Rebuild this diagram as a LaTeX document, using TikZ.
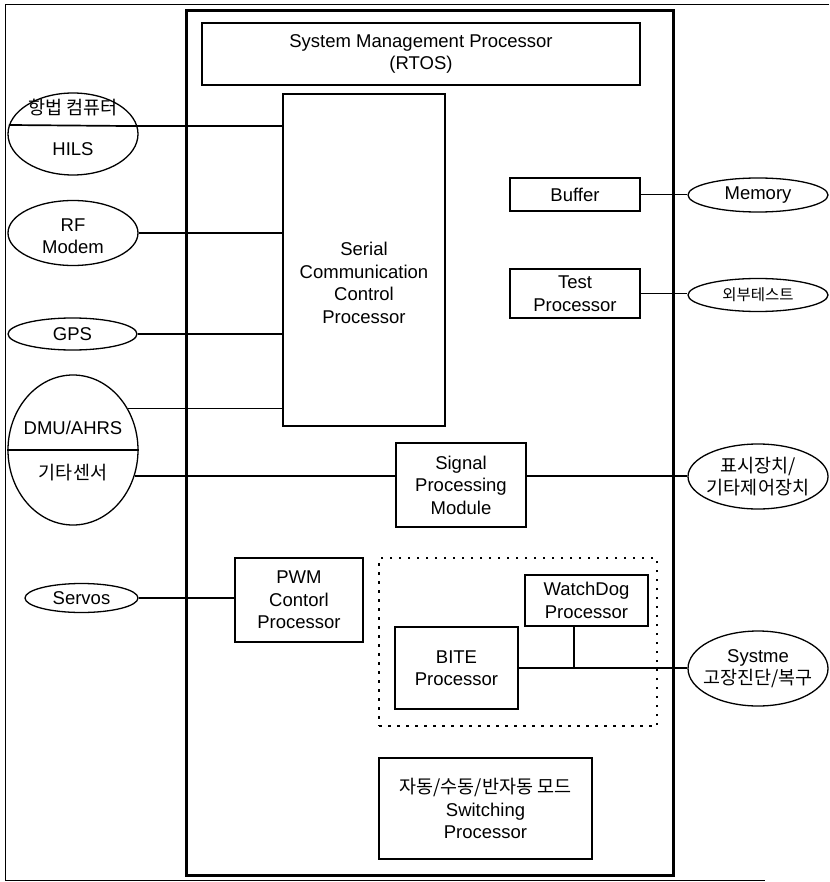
\documentclass[tikz,border=0pt]{standalone}
\usepackage{fontspec}
\setmainfont{Liberation Sans}
\newfontfamily\kr{Noto Sans CJK KR}
\usetikzlibrary{shapes.geometric}
\newcommand\labfont{\fontsize{18.5}{22.5}\selectfont}
\newcommand\smallkr{\fontsize{15.5}{18}\selectfont\kr}

\begin{document}
\begin{tikzpicture}[x=1pt,y=-1pt,
  blk/.style={draw, line width=1.3pt, inner sep=0pt, align=center, font=\labfont},
  ext/.style={draw, ellipse, line width=1.3pt, inner sep=0pt},
  txt/.style={inner sep=0pt, align=center, font=\labfont},
  wire/.style={line width=1.7pt},
  grp/.style={draw, line width=2.2pt, dash pattern=on 2.5pt off 6.5pt, inner sep=0pt},
]
\useasboundingbox (0,0) rectangle (829,882);

% page frame
\draw[line width=1pt] (829,5) -- (5,5) -- (5,880) -- (765,880);

% flight control unit
\node[draw, line width=3pt, minimum width=487pt, minimum height=864pt] (unit) at (429.5,443) {};

% processors inside the unit
\node[blk, minimum width=438pt, minimum height=62pt] (smp) at (421,54) {System Management Processor\\(RTOS)};
\node[blk, minimum width=162pt, minimum height=332pt] (scc) at (364,260) {};
\node[txt] (scctext) at (364,283) {Serial\\Communication\\Control\\Processor};
\node[blk, minimum width=130pt, minimum height=33pt] (buf) at (575,194.5) {Buffer};
\node[blk, minimum width=130pt, minimum height=49pt] (tst) at (575,293.5) {Test\\Processor};
\node[blk, minimum width=130pt, minimum height=84pt] (spm) at (461,485) {Signal\\Processing\\Module};
\node[blk, minimum width=128pt, minimum height=84pt] (pwm) at (299,600) {PWM\\Contorl\\Processor};
\node[grp, minimum width=278pt, minimum height=168pt] (bitegrp) at (518,642) {};
\node[blk, minimum width=123pt, minimum height=51pt] (wdg) at (586.5,600.5) {WatchDog\\Processor};
\node[blk, minimum width=123pt, minimum height=82pt] (bite) at (456.5,668) {BITE\\Processor};
\node[blk, minimum width=213pt, minimum height=101pt] (mode) at (485.5,808.5) {{\kr 자동/수동/반자동 모드}\\Switching\\Processor};

% external devices, left
\node[ext, minimum width=130pt, minimum height=82pt] (nav) at (73,134) {};
\node[txt] (navtop) at (73,107.5) {\kr 항법 컴퓨터};
\node[txt] (navbot) at (73,149) {HILS};
\node[ext, minimum width=130pt, minimum height=65pt] (rf) at (73,233) {};
\node[txt] (rftext) at (73,236) {RF\\Modem};
\node[ext, minimum width=129pt, minimum height=32pt] (gps) at (72.5,334) {};
\node[txt] (gpstext) at (gps) {GPS};
\node[ext, minimum width=130pt, minimum height=150pt] (dmu) at (73,450) {};
\node[txt] (dmutop) at (73,428) {DMU/AHRS};
\node[txt] (dmubot) at (73,473) {\kr 기타센서};
\node[ext, minimum width=113pt, minimum height=29pt] (srv) at (81.5,598) {};
\node[txt] (srvtext) at (srv) {Servos};

% external devices, right
\node[ext, minimum width=140pt, minimum height=34pt] (mem) at (758,195) {};
\node[txt] (memtext) at (mem) {Memory};
\node[ext, minimum width=140pt, minimum height=33pt] (xtst) at (758,295) {};
\node[txt, font=\smallkr] (xtsttext) at (xtst) {외부테스트};
\node[ext, minimum width=140pt, minimum height=65pt] (disp) at (758,476.5) {};
\node[txt, font=\labfont\kr] (disptext) at (disp) {표시장치/\\기타제어장치};
\node[ext, minimum width=140pt, minimum height=75pt] (diag) at (758,668.5) {};
\node[txt] (diagtext) at (diag) {Systme\\{\kr 고장진단/복구}};

% links
\draw[wire] (nav.172.85) -- (nav.7.15);
\draw[wire] (nav.7.15) -- (nav.7.15 -| scc.west);
\draw[wire] (rf.east) -- (rf.east -| scc.west);
\draw[wire] (gps.east) -- (gps.east -| scc.west);
\draw[wire] (dmu.west) -- (dmu.east);
\draw[wire] (dmu.37) -- (dmu.37 -| scc.west);
\draw[wire] (dmu.-23.1) -- (dmu.-23.1 -| spm.west);
\draw[wire] (srv.east) -- (srv.east -| pwm.west);
\draw[wire] (buf.east) -- (buf.east -| mem.west);
\draw[wire] (tst.east) -- (tst.east -| xtst.west);
\draw[wire] (spm.east |- dmu.-23.1) -- (dmu.-23.1 -| disp.west);
\draw[wire] (bite.east) -- (bite.east -| diag.west);
\coordinate (tap) at (574,668);
\draw[wire] (tap |- wdg.south) -- (tap);
\end{tikzpicture}
\end{document}
